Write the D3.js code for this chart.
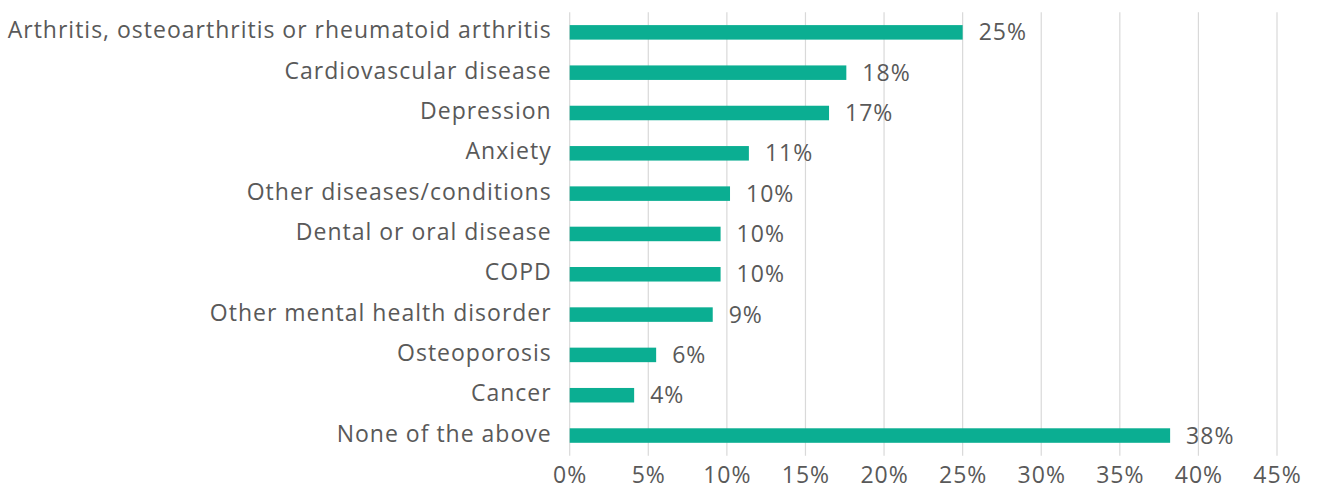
<!DOCTYPE html>
<html><head><meta charset="utf-8">
<script src="https://cdn.jsdelivr.net/npm/d3@7/dist/d3.min.js"></script>
<style>body{margin:0;background:#fff;} text{font-family:"Open Sans", Lato, sans-serif;}</style>
</head><body><svg id="c" width="1325" height="490"></svg>
<script>
const categories = ["Arthritis, osteoarthritis or rheumatoid arthritis","Cardiovascular disease","Depression","Anxiety","Other diseases/conditions","Dental or oral disease","COPD","Other mental health disorder","Osteoporosis","Cancer","None of the above"];
const values = [25.0, 17.6, 16.5, 11.4, 10.2, 9.6, 9.6, 9.1, 5.5, 4.1, 38.2];
const valueLabels = ["25%","18%","17%","11%","10%","10%","10%","9%","6%","4%","38%"];
const tickValues = [0,5,10,15,20,25,30,35,40,45];

(function(){
const svg = d3.select("#c");
const pl = 569.7, pr = 1277, pt = 12.2, pb = 455.7;
const x = d3.scaleLinear().domain([0,45]).range([pl,pr]);
const y = d3.scaleBand().domain(categories).range([pt,pb]).paddingInner(0.64).paddingOuter(0.32);
const txt = "#595959", fs = 23;

svg.append("g").selectAll("line").data(tickValues).join("line")
  .attr("x1",d=>x(d)).attr("x2",d=>x(d)).attr("y1",pt).attr("y2",pb)
  .attr("stroke","#d9d9d9").attr("stroke-width",1.2);

svg.append("g").selectAll("rect").data(values).join("rect")
  .attr("x",x(0)).attr("y",(d,i)=>y(categories[i]))
  .attr("width",d=>x(d)-x(0)).attr("height",y.bandwidth())
  .attr("fill","#0bae92");

const vl = svg.append("g").selectAll("text").data(values).join("text")
  .attr("x",d=>x(d)+16).attr("y",(d,i)=>y(categories[i])+y.bandwidth()/2+8)
  .attr("font-size",fs).attr("fill",txt)
  .text((d,i)=>valueLabels[i]);

const cl = svg.append("g").selectAll("text").data(categories).join("text")
  .attr("x",pl-18).attr("y",d=>y(d)+y.bandwidth()/2+6)
  .attr("text-anchor","end").attr("font-size",fs).attr("fill",txt)
  .text(d=>d);

const xa = svg.append("g").attr("transform",`translate(0,${pb})`)
  .call(d3.axisBottom(x).tickValues(tickValues).tickFormat(d=>d+"%").tickSize(0).tickPadding(0));
xa.select(".domain").remove();
xa.selectAll("text").attr("font-size",fs).attr("fill",txt).attr("font-family","'Open Sans', Lato, sans-serif")
  .attr("dy",null).attr("y",27);

// widen letter spacing to match reference text width (longest label ~544px)
const n0 = cl.nodes()[0];
const w = n0.getComputedTextLength();
const ls = Math.max(0,(544 - w)/categories[0].length);
svg.selectAll("text").attr("letter-spacing", ls);
})();
</script></body></html>
